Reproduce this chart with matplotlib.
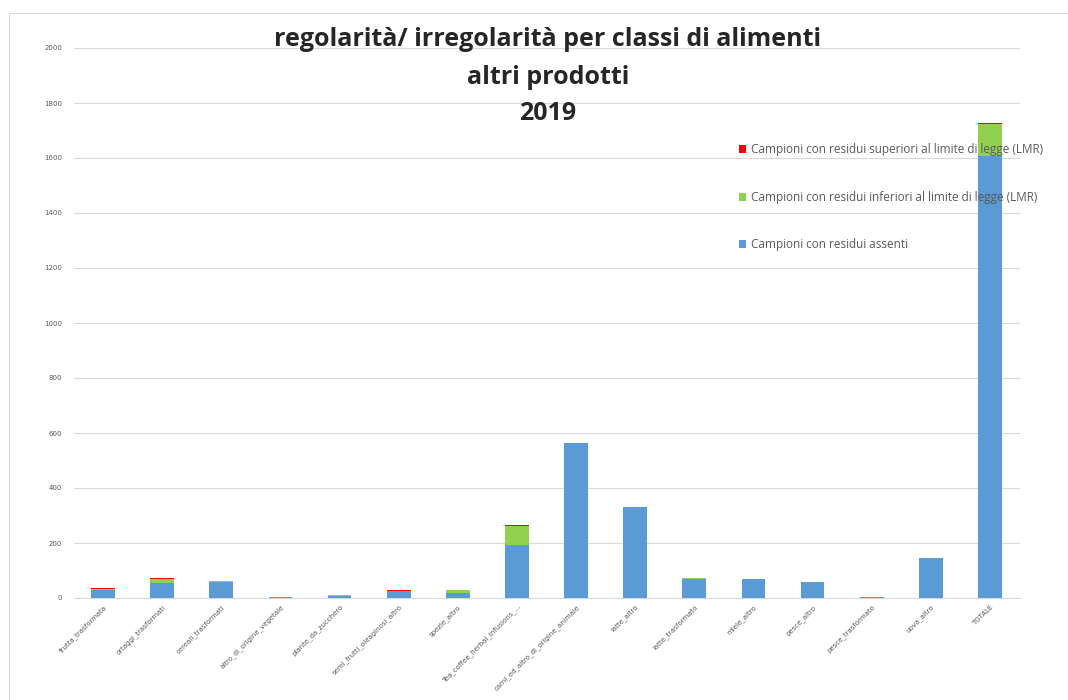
import numpy as np
import matplotlib.pyplot as plt
from matplotlib.patches import Rectangle

# --- Data ---
categorie = [
    "frutta_trasformata", "ortaggi_trasformati", "cereali_trasformati",
    "altro_di_origine_vegetale", "piante_da_zucchero", "semi_frutti_oleaginosi_altro",
    "spezie_altro", "Tea_coffee_herbal_infusions_...", "carni_ed_altro_di_origine_animale",
    "latte_altro", "latte_trasformato", "miele_altro", "pesce_altro",
    "pesce_trasformato", "uova_altro", "TOTALE",
]
assenti   = [28, 53, 58, 4, 9, 27, 20, 194, 562, 331, 68, 68, 57, 4, 145, 1606]
inferiori = [5, 15, 5, 0, 1, 0, 9, 67, 0, 0, 6, 2, 3, 0, 2, 117]
superiori = [2, 5, 0, 0, 0, 3, 0, 3, 0, 0, 0, 0, 0, 0, 0, 5]

lab_sup = "Campioni con residui superiori al limite di legge (LMR)"
lab_inf = "Campioni con residui inferiori al limite di legge (LMR)"
lab_ass = "Campioni con residui assenti"

BLUE, GREEN, RED = "#5B9BD5", "#92D050", "#FF0000"
GRID = "#D9D9D9"
TXT = "#595959"

fig = plt.figure(figsize=(10.68, 7.0), dpi=100)
ax = fig.add_axes([73.5 / 1068, 1 - 598 / 700, 946 / 1068, 550 / 700])

x = np.arange(len(categorie))
w = 0.4
a = np.array(assenti)
i = np.array(inferiori)
s = np.array(superiori)

b1 = ax.bar(x, a, w, color=BLUE, zorder=3)
b2 = ax.bar(x, i, w, bottom=a, color=GREEN, zorder=3)
b3 = ax.bar(x, s, w, bottom=a + i, color=RED, zorder=3)

ax.set_xlim(-0.5, len(categorie) - 0.5)
ax.set_ylim(0, 2000)
ax.set_yticks(np.arange(0, 2001, 200))
ax.yaxis.grid(True, color=GRID, linewidth=0.8, zorder=0)
ax.tick_params(axis="y", length=0, labelsize=5, labelcolor=TXT, pad=8)
ax.tick_params(axis="x", length=0, labelsize=5, labelcolor=TXT, pad=4)
ax.set_xticks(x)
ax.set_xticklabels(categorie, rotation=45, ha="right", rotation_mode="anchor")
for sp in ["top", "right", "left"]:
    ax.spines[sp].set_visible(False)
ax.spines["bottom"].set_color(GRID)
ax.spines["bottom"].set_linewidth(0.8)

leg = ax.legend([b3, b2, b1], [lab_sup, lab_inf, lab_ass],
                loc="upper left", bbox_to_anchor=(0.703, 0.827),
                frameon=False, fontsize=8.5, labelspacing=2.93,
                handlelength=0.65, handleheight=0.65, handletextpad=0.4,
                borderpad=0, borderaxespad=0)
for t in leg.get_texts():
    t.set_color(TXT)
    t.set_family("Open Sans")
leg.set_zorder(5)

title_lines = ["regolarità/ irregolarità per classi di alimenti", "altri prodotti", "2019"]
for k, line in enumerate(title_lines):
    fig.text(548 / 1068, 1 - (40 + 37 * k) / 700, line,
             ha="center", va="center", fontsize=18, fontweight="bold",
             family="Open Sans", color="#262626")

# chart outline
fig.patches.append(Rectangle((9 / 1068, -0.1), 1.2, 1 - 13 / 700 + 0.1,
                             transform=fig.transFigure, fill=False,
                             edgecolor=GRID, linewidth=0.8))

fig.savefig("out.png", dpi=100)
